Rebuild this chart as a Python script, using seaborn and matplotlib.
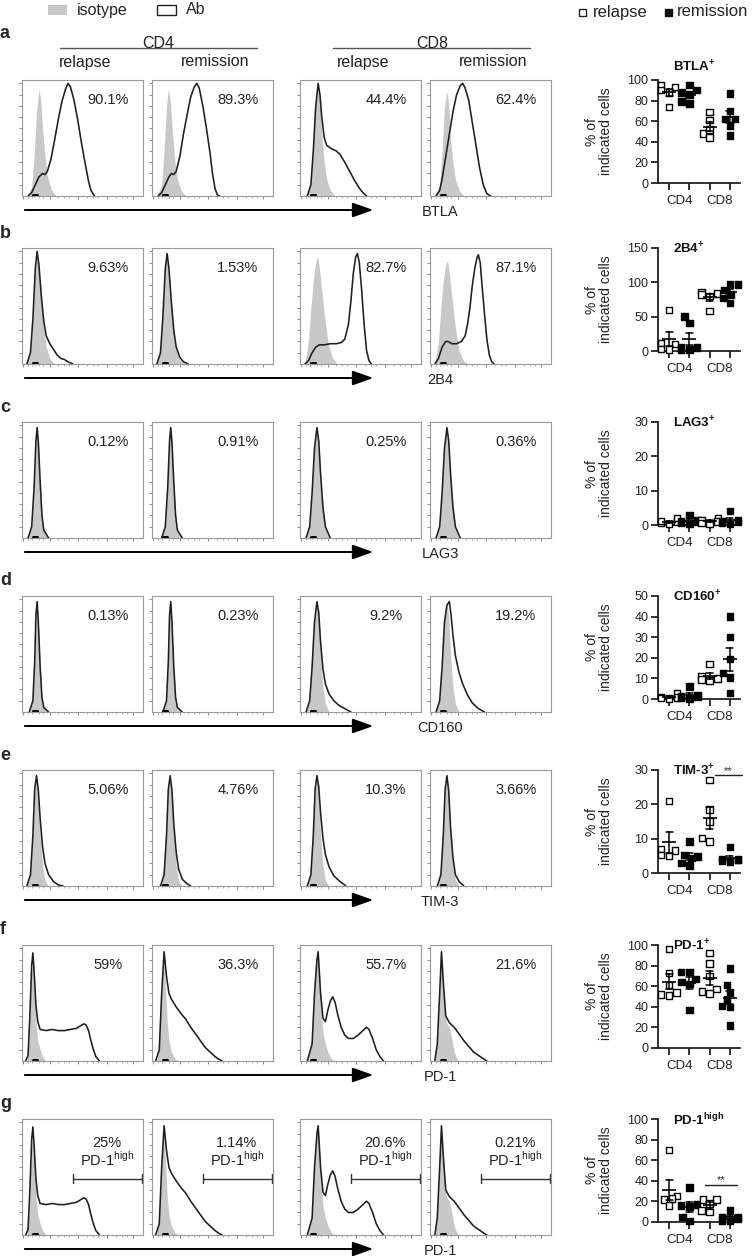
import numpy as np
import pandas as pd
import matplotlib
matplotlib.use("Agg")
import matplotlib.pyplot as plt
from matplotlib.patches import Rectangle, FancyArrowPatch
from matplotlib.lines import Line2D
import seaborn as sns

sns.set_style('white')
plt.rcParams['font.family'] = ['Liberation Sans', 'DejaVu Sans']
plt.rcParams['mathtext.fontset'] = 'custom'
plt.rcParams['mathtext.rm'] = 'Liberation Sans'
plt.rcParams['mathtext.bf'] = 'Liberation Sans:bold'

# ---------------- data ----------------
ROW_LETTERS = ['a', 'b', 'c', 'd', 'e', 'f', 'g']
AXIS_NAMES = ['BTLA', '2B4', 'LAG3', 'CD160', 'TIM-3', 'PD-1', 'PD-1']
TITLES = ['BTLA$^{\\mathbf{+}}$', '2B4$^{\\mathbf{+}}$', 'LAG3$^{\\mathbf{+}}$', 'CD160$^{\\mathbf{+}}$',
          'TIM-3$^{\\mathbf{+}}$', 'PD-1$^{\\mathbf{+}}$', 'PD-1$^{\\mathbf{high}}$']

# % positive shown in each histogram (CD4 relapse, CD4 remission, CD8 relapse, CD8 remission)
BTLA_POS = ['90.1%', '89.3%', '44.4%', '62.4%']
B2B4_POS = ['9.63%', '1.53%', '82.7%', '87.1%']
LAG3_POS = ['0.12%', '0.91%', '0.25%', '0.36%']
CD160_POS = ['0.13%', '0.23%', '9.2%', '19.2%']
TIM3_POS = ['5.06%', '4.76%', '10.3%', '3.66%']
PD1_POS = ['59%', '36.3%', '55.7%', '21.6%']
PD1HI_POS = ['25%', '1.14%', '20.6%', '0.21%']

# histogram outlines: (fluorescence position 0-100, relative count)
BTLA_ISO = [
    [(4, 0), (8, .08), (10, .35), (12, .75), (14, .95), (15.5, .85), (17, .6), (19, .35), (21, .18), (24, .06), (28, 0)],
    [(4, 0), (8, .1), (10, .4), (12, .8), (13.5, .95), (15, .85), (17, .55), (19, .3), (21, .15), (24, .05), (28, 0)],
    [(5, 0), (9, .1), (11, .4), (13, .85), (15, .97), (16.5, .85), (18, .55), (20, .3), (22, .15), (25, .05), (29, 0)],
    [(4, 0), (8, .1), (10, .4), (12, .8), (14, .93), (15.5, .8), (17, .5), (19, .3), (21, .15), (24, .05), (28, 0)],
]
BTLA_AB = [
    [(5, 0), (8, .03), (11, .1), (14, .17), (17, .2), (19, .19), (21, .22), (24, .33), (27, .5), (30, .68), (33, .84),
     (36, .95), (38, 1.0), (40, .97), (43, .85), (46, .68), (49, .48), (52, .3), (55, .13), (57, .05), (60, 0)],
    [(5, 0), (8, .03), (11, .1), (14, .17), (16, .2), (18, .19), (20, .22), (23, .35), (26, .55), (29, .72), (32, .88),
     (35, .97), (37, 1.0), (39, .96), (42, .8), (45, .6), (48, .38), (50, .2), (52, .07), (54, .01), (56, 0)],
    [(6, 0), (9, .1), (11, .4), (13, .8), (15, 1.0), (16.5, .9), (18, .7), (20, .52), (22, .45), (26, .42), (30, .4),
     (33, .37), (37, .3), (41, .22), (45, .14), (49, .07), (52, .03), (55, 0)],
    [(5, 0), (8, .05), (10, .15), (13, .35), (16, .55), (19, .75), (22, .9), (25, .98), (27, 1.0), (29, .96), (32, .85),
     (35, .65), (38, .45), (41, .25), (44, .1), (47, .02), (50, 0)],
]
B2B4_ISO = [
    [(4, 0), (7, .1), (9, .4), (11, .85), (12.5, .97), (14, .85), (16, .55), (18, .3), (20, .15), (23, .05), (27, 0)],
    [(4, 0), (7, .12), (9, .45), (11, .85), (12.5, .96), (14, .8), (16, .5), (18, .25), (20, .12), (23, .04), (27, 0)],
    [(4, 0), (7, .2), (9, .5), (11, .75), (13, .9), (14.5, .96), (16, .85), (18, .65), (20, .45), (22, .28), (24, .15),
     (27, .05), (31, 0)],
    [(4, 0), (7, .2), (9, .5), (11, .75), (13, .88), (14.5, .92), (16, .8), (18, .6), (20, .4), (22, .25), (24, .12),
     (27, .04), (31, 0)],
]
B2B4_AB = [
    [(4, 0), (7, .1), (9, .4), (11, .85), (12.5, 1.0), (14, .88), (16, .6), (18, .38), (20, .25), (23, .18), (26, .13),
     (29, .08), (32, .05), (35, .04), (38, .02), (42, 0)],
    [(4, 0), (7, .1), (9, .42), (11, .85), (12.5, .98), (14, .85), (16, .55), (18, .3), (20, .15), (23, .06), (26, .02),
     (30, 0)],
    [(4, 0), (7, .03), (10, .1), (13, .15), (16, .17), (20, .17), (25, .18), (30, .18), (34, .19), (37, .22), (40, .35),
     (42, .55), (44, .8), (46, .95), (47.5, .98), (49, .9), (51, .65), (53, .35), (55, .12), (57, .03), (59, 0)],
    [(4, 0), (7, .05), (10, .15), (13, .2), (15, .2), (18, .18), (22, .18), (26, .2), (29, .25), (31, .35), (33, .5),
     (35, .7), (37, .85), (39, .95), (40, .97), (41.5, .9), (43, .7), (45, .45), (47, .22), (49, .08), (51, .02), (53, 0)],
]
LAG3_ISO = [
    [(5, 0), (8, .1), (10, .45), (11.5, .85), (12.5, .97), (13.5, .85), (15, .5), (16.5, .2), (18, .06), (21, 0)],
    [(8, 0), (11, .1), (13, .45), (14.5, .85), (15.5, .97), (16.5, .85), (18, .5), (19.5, .2), (21, .06), (24, 0)],
    [(5, 0), (8, .1), (10, .4), (12, .8), (14, .97), (15.5, .85), (17, .55), (19, .25), (21, .08), (24, 0)],
    [(5, 0), (8, .1), (10, .4), (12, .8), (14, .97), (15.5, .85), (17, .55), (19, .25), (21, .08), (24, 0)],
]
LAG3_AB = [
    [(5, 0), (8, .1), (10, .45), (11.5, .86), (12.5, .98), (13.5, .85), (15, .5), (16.5, .2), (18, .07), (22, 0)],
    [(8, 0), (11, .1), (13, .45), (14.5, .86), (15.5, .98), (16.5, .85), (18, .5), (19.5, .2), (21, .07), (25, 0)],
    [(5, 0), (8, .1), (10, .4), (12, .8), (14, .98), (15.5, .86), (17, .57), (19, .27), (21, .1), (25, 0)],
    [(5, 0), (8, .1), (10, .4), (12, .8), (14, .98), (15.5, .86), (17, .57), (19, .27), (21, .1), (25, 0)],
]
CD160_ISO = [
    [(6, 0), (9, .1), (10.5, .45), (11.5, .85), (12.5, .97), (13.5, .8), (15, .4), (16.5, .12), (18, .03), (21, 0)],
    [(9, 0), (12, .1), (13.5, .45), (14.5, .85), (15.5, .97), (16.5, .8), (18, .4), (19.5, .12), (21, .03), (24, 0)],
    [(5, 0), (8, .1), (10, .4), (12, .8), (14, .96), (15.5, .85), (17, .5), (19, .22), (21, .07), (24, 0)],
    [(5, 0), (8, .1), (10, .4), (12, .8), (14, .96), (15.5, .85), (17, .5), (19, .22), (21, .07), (24, 0)],
]
CD160_AB = [
    [(6, 0), (9, .1), (10.5, .45), (11.5, .86), (12.5, .98), (13.5, .8), (15, .4), (16.5, .13), (18, .04), (22, 0)],
    [(9, 0), (12, .1), (13.5, .45), (14.5, .86), (15.5, .98), (16.5, .8), (18, .4), (19.5, .13), (21, .04), (25, 0)],
    [(5, 0), (8, .1), (10, .4), (12, .8), (14, .98), (15.5, .88), (17, .62), (19, .38), (21, .25), (24, .16), (28, .1),
     (32, .06), (37, .03), (42, 0)],
    [(5, 0), (8, .1), (10, .4), (12, .8), (14, .95), (16, .98), (17.5, .85), (19, .68), (21, .5), (24, .35), (27, .25),
     (31, .15), (35, .08), (40, .03), (45, 0)],
]
TIM3_ISO = [
    [(4, 0), (7, .1), (9, .45), (10.5, .85), (12, .97), (13.5, .8), (15, .45), (17, .18), (19, .05), (22, 0)],
    [(7, 0), (10, .1), (12, .45), (13.5, .85), (15, .97), (16.5, .8), (18, .45), (20, .18), (22, .05), (25, 0)],
    [(6, 0), (9, .1), (11, .45), (12.5, .85), (14, .97), (15.5, .8), (17, .45), (19, .18), (21, .05), (24, 0)],
    [(6, 0), (9, .1), (11, .45), (12.5, .85), (14, .97), (15.5, .8), (17, .45), (19, .18), (21, .05), (24, 0)],
]
TIM3_AB = [
    [(4, 0), (7, .1), (9, .45), (10.5, .86), (12, .98), (13.5, .85), (15, .6), (17, .35), (19, .2), (22, .1), (26, .04),
     (30, .01), (34, 0)],
    [(7, 0), (10, .1), (12, .45), (13.5, .86), (15, .98), (16.5, .85), (18, .55), (20, .3), (22, .15), (25, .06),
     (29, .02), (32, 0)],
    [(6, 0), (9, .1), (11, .45), (12.5, .86), (14, .98), (15.5, .88), (17, .65), (19, .42), (21, .28), (24, .17),
     (28, .09), (33, .04), (38, 0)],
    [(6, 0), (9, .1), (11, .45), (12.5, .86), (14, .98), (15.5, .84), (17, .52), (19, .25), (21, .1), (24, .04),
     (28, 0)],
]
PD1_ISO = [
    [(4, 0), (6, .2), (7.5, .7), (9, .94), (10, .75), (11.5, .35), (13, .18), (15, .1), (17, .04), (20, 0)],
    [(4, 0), (6, .15), (8, .6), (9.5, .92), (11, .7), (12.5, .35), (14, .18), (16, .08), (19, .02), (22, 0)],
    [(6, 0), (10, .15), (12, .6), (14, .9), (15, .97), (16, .8), (17.5, .45), (19, .25), (21, .15), (23, .08), (26, .02),
     (29, 0)],
    [(4, 0), (6, .15), (8, .6), (9.5, .92), (11, .7), (12.5, .4), (14, .33), (16, .3), (18, .2), (20, .08), (23, 0)],
]
PD1_AB = [
    [(3, 0), (5, .05), (6.5, .4), (8, .85), (9, .96), (10, .8), (11.5, .5), (13, .35), (15, .28), (20, .27), (25, .28),
     (30, .27), (35, .27), (40, .28), (45, .29), (48, .31), (51, .33), (53, .32), (55, .27), (57, .18), (59, .1),
     (61, .04), (64, 0)],
    [(3, 0), (6, .1), (8, .6), (10, .97), (12, .75), (14, .6), (16, .55), (20, .48), (24, .42), (28, .37), (32, .3),
     (36, .24), (40, .18), (44, .12), (48, .08), (52, .04), (56, .01), (58, 0)],
    [(6, 0), (10, .15), (12, .6), (14, .9), (15, .97), (17, .6), (19, .38), (21, .35), (23, .45), (25, .53), (27, .57),
     (29, .52), (31, .42), (34, .3), (37, .23), (40, .2), (44, .2), (48, .23), (52, .27), (55, .3), (57, .28), (60, .2),
     (63, .1), (66, .04), (69, 0)],
    [(4, 0), (6, .15), (8, .6), (9.5, .97), (11, .7), (13, .4), (16, .34), (20, .3), (24, .24), (28, .18), (32, .13),
     (36, .08), (40, .05), (44, .02), (47, 0)],
]

# scatter: % of indicated cells, groups = CD4 relapse, CD4 remission, CD8 relapse, CD8 remission
GROUPS = ['CD4 relapse', 'CD4 remission', 'CD8 relapse', 'CD8 remission']
STATUS = ['relapse', 'remission', 'relapse', 'remission']
BTLA_PCT = [[95, 93, 90, 88, 74], [95, 90, 88, 86, 79, 77], [69, 61, 52, 48, 44], [87, 70, 62, 62, 56, 46]]
B2B4_PCT = [[60, 12, 10, 3, 2], [50, 41, 5, 5, 2, 2], [86, 84, 82, 80, 58], [97, 97, 89, 82, 77, 70]]
LAG3_PCT = [[1.0, 2.0, 0.5, 0.3, 1.2], [3.0, 1.5, 1.0, 0.8, 0.5, 0.3], [1.5, 2.0, 0.5, 0.3, 1.0],
            [4.0, 1.5, 1.0, 0.8, 0.5, 0.3]]
CD160_PCT = [[3.0, 1.0, 0.5, 0.3, 0.8], [6.0, 2.0, 1.5, 1.0, 0.5, 0.3], [17, 11, 10, 9.5, 9], [40, 30, 19.5, 12.5, 10.5, 3]]
TIM3_PCT = [[21, 7, 6.5, 5.3, 5.0], [9.2, 5.3, 4.8, 4.4, 2.9, 2.2], [27, 18.5, 15, 10.2, 9.2],
            [7.5, 4.0, 3.9, 3.8, 3.6, 3.4]]
PD1_PCT = [[96, 73, 61, 54, 52, 51], [74, 74, 67, 64, 62, 37], [92, 82, 70, 57, 55, 53], [77, 61, 54, 47, 41, 40, 22]]
PD1HI_PCT = [[70, 25, 23, 22, 16], [33.5, 17, 16, 15, 5, 1], [22, 22, 18, 11, 10], [11, 5, 5, 3.3, 1.6, 1]]

Y_TOPS = [100, 150, 30, 50, 30, 100, 100]
Y_STEPS = [20, 50, 10, 10, 10, 20, 20]

ISO_ROWS = [BTLA_ISO, B2B4_ISO, LAG3_ISO, CD160_ISO, TIM3_ISO, PD1_ISO, PD1_ISO]
AB_ROWS = [BTLA_AB, B2B4_AB, LAG3_AB, CD160_AB, TIM3_AB, PD1_AB, PD1_AB]
POS_ROWS = [BTLA_POS, B2B4_POS, LAG3_POS, CD160_POS, TIM3_POS, PD1_POS, PD1HI_POS]
PCT_ROWS = [BTLA_PCT, B2B4_PCT, LAG3_PCT, CD160_PCT, TIM3_PCT, PD1_PCT, PD1HI_PCT]

# ---------------- layout (pixels) ----------------
W, H = 756, 1258
COL_X = [22, 152, 300, 430]
PW, PH = 121, 116
ROW_Y = [80, 248, 422, 596, 770, 945, 1119]
SC_X, SC_W, SC_H = 658, 82, 103

fig = plt.figure(figsize=(W / 100, H / 100), dpi=100)


def px_axes(x0, y0, w, h):
    return fig.add_axes([x0 / W, 1 - (y0 + h) / H, w / W, h / H])


def ftext(x, y, s, **kw):
    fig.text(x / W, 1 - y / H, s, **kw)


def fline(x0, x1, y0, y1, **kw):
    fig.add_artist(Line2D([x0 / W, x1 / W], [1 - y0 / H, 1 - y1 / H], transform=fig.transFigure, **kw))


def hist_panel(x0, y0, iso, ab, label, gate):
    ax = px_axes(x0, y0, PW, PH)
    ix, iy = zip(*iso)
    ax.fill_between(ix, iy, color='#c8c8c8', lw=0)
    ax_, ay_ = zip(*ab)
    sns.lineplot(x=list(ax_), y=list(ay_), ax=ax, color='#1e1e1e', lw=1.15, estimator=None, sort=False)
    ax.set_xlim(0, 100)
    ax.set_ylim(0, 1.03)
    for sp in ax.spines.values():
        sp.set_color('#9a9a9a')
        sp.set_linewidth(0.8)
    ax.set_xticks([1, 23, 46, 70, 92])
    ax.set_xticks([5, 8, 14, 17, 30, 35, 39, 54, 59, 63, 78, 83, 87], minor=True)
    ax.set_yticks(np.arange(0.1, 1.01, 0.1))
    ax.tick_params(axis='both', which='major', length=2.5, width=0.6, color='#777777',
                   labelbottom=False, labelleft=False, bottom=True, left=True)
    ax.tick_params(axis='x', which='minor', length=1.5, width=0.5, color='#888888', bottom=True)
    ax.plot([9.5, 12.5], [0.005, 0.005], color='black', lw=2.2, clip_on=False)
    ax.set_xlabel('')
    ax.set_ylabel('')
    if gate:
        ax.text(70, 0.82, label, ha='center', va='center', fontsize=10.5, color='#222222')
        ax.text(70, 0.67, 'PD-1$^{\\mathrm{high}}$', ha='center', va='center', fontsize=10.5, color='#222222')
        ax.plot([42, 99.5], [0.5, 0.5], color='#333333', lw=1.0, clip_on=False)
        ax.plot([42, 42], [0.46, 0.54], color='#333333', lw=1.0)
        ax.plot([99.5, 99.5], [0.46, 0.54], color='#333333', lw=1.0, clip_on=False)
    else:
        ax.text(71, 0.85, label, ha='center', va='center', fontsize=10.5, color='#222222')


def scatter_panel(y0, vals, ytop, ystep, title, row):
    ax = px_axes(SC_X, y0, SC_W, SC_H)
    recs = []
    for g, st, v in zip(GROUPS, STATUS, vals):
        for val in v:
            recs.append({'group': g, 'status': st, 'value': val})
    df = pd.DataFrame(recs)
    sns.swarmplot(data=df, x='group', y='value', hue='status', order=GROUPS,
                  palette={'relapse': 'white', 'remission': 'black'}, marker='s', size=4.6,
                  edgecolor='black', linewidth=1.0, legend=False, ax=ax, clip_on=False, zorder=3)
    sns.pointplot(data=df, x='group', y='value', order=GROUPS, errorbar='se', capsize=0.35,
                  color='black', linestyle='none', marker='_', markersize=10, markeredgewidth=1.2,
                  err_kws={'linewidth': 1.1}, ax=ax, zorder=4)
    ax.set_xlim(-0.55, 3.5)
    ax.set_ylim(0, ytop)
    ax.set_yticks(np.arange(0, ytop + 0.1, ystep))
    ax.set_yticklabels([f'{int(t)}' for t in np.arange(0, ytop + 0.1, ystep)], fontsize=9, color='#222222')
    ax.set_xticks([0, 1, 2, 3])
    ax.set_xticklabels([])
    ax.tick_params(axis='both', length=5, width=1.3, color='#222222', direction='out', left=True, bottom=True,
                   pad=2)
    for sp in ['top', 'right']:
        ax.spines[sp].set_visible(False)
    for sp in ['left', 'bottom']:
        ax.spines[sp].set_linewidth(1.3)
        ax.spines[sp].set_color('#222222')
    ax.set_xlabel('')
    ax.set_ylabel('')
    ax.text(0.5, -0.17, 'CD4', transform=ax.get_xaxis_transform(), ha='center', va='center', fontsize=9.5,
            color='#222222')
    ax.text(2.5, -0.17, 'CD8', transform=ax.get_xaxis_transform(), ha='center', va='center', fontsize=9.5,
            color='#222222')
    ty = y0 - 13 if row == 0 else y0 + 1
    ftext(673, ty, title, ha='left', va='center', fontsize=9.5, fontweight='bold', color='#111111')
    ftext(599, y0 + SC_H / 2, '% of\nindicated cells', rotation=90, ha='center', va='center', fontsize=10,
          linespacing=1.05, color='#222222')
    return ax


for r in range(7):
    y0 = ROW_Y[r]
    for c in range(4):
        hist_panel(COL_X[c], y0, ISO_ROWS[r][c], AB_ROWS[r][c], POS_ROWS[r][c], gate=(r == 6))
    # axis arrow under the row
    ay = y0 + PH + 14
    fig.add_artist(FancyArrowPatch((22 / W, 1 - ay / H), (376 / W, 1 - ay / H), transform=fig.transFigure,
                                   arrowstyle='-|>,head_length=0.9,head_width=0.32', mutation_scale=14,
                                   lw=1.4, color='black'))
    ftext(440, ay + 2, AXIS_NAMES[r], ha='center', va='center', fontsize=10.5, color='#222222')
    ftext(0, y0 - (47 if r == 0 else 15), ROW_LETTERS[r], ha='left', va='center', fontsize=13, fontweight='bold')
    sax = scatter_panel(y0, PCT_ROWS[r], Y_TOPS[r], Y_STEPS[r], TITLES[r], r)
    if r == 4:
        sax.plot([2.27, 3.6], [28.5, 28.5], color='#222222', lw=1.0, clip_on=False)
        sax.text(2.9, 29.6, '**', ha='center', va='center', fontsize=8, color='#222222')
    if r == 6:
        sax.plot([1.77, 3.35], [36, 36], color='#222222', lw=1.0, clip_on=False)
        sax.text(2.55, 41, '**', ha='center', va='center', fontsize=8, color='#222222')

# header
ftext(158, 43, 'CD4', ha='center', va='center', fontsize=11.5, color='#222222')
ftext(432, 43, 'CD8', ha='center', va='center', fontsize=11.5, color='#222222')
fline(60, 257, 48, 48, color='#555555', lw=1.0)
fline(333, 530, 48, 48, color='#555555', lw=1.0)
for c, lab in enumerate(['relapse', 'remission', 'relapse', 'remission']):
    ftext(COL_X[c] + PW / 2 + 3, 62, lab, ha='center', va='center', fontsize=11.5, color='#222222')

# legends
fig.add_artist(Rectangle((48 / W, 1 - 15 / H), 19 / W, 10 / H, transform=fig.transFigure, facecolor='#c8c8c8',
                         edgecolor='none'))
ftext(77, 10, 'isotype', ha='left', va='center', fontsize=11.5, color='#222222')
fig.add_artist(Rectangle((157 / W, 1 - 15 / H), 19 / W, 10 / H, transform=fig.transFigure, facecolor='white',
                         edgecolor='#222222', lw=1.0))
ftext(186, 10, 'Ab', ha='left', va='center', fontsize=11.5, color='#222222')
fig.add_artist(Rectangle((579 / W, 1 - 16 / H), 7 / W, 7 / H, transform=fig.transFigure, facecolor='white',
                         edgecolor='#222222', lw=1.0))
ftext(593, 12, 'relapse', ha='left', va='center', fontsize=12, color='#222222')
fig.add_artist(Rectangle((665 / W, 1 - 16 / H), 7 / W, 7 / H, transform=fig.transFigure, facecolor='#111111',
                         edgecolor='#111111', lw=1.0))
ftext(677, 12, 'remission', ha='left', va='center', fontsize=12, color='#222222')

fig.savefig('out.png', dpi=100)
